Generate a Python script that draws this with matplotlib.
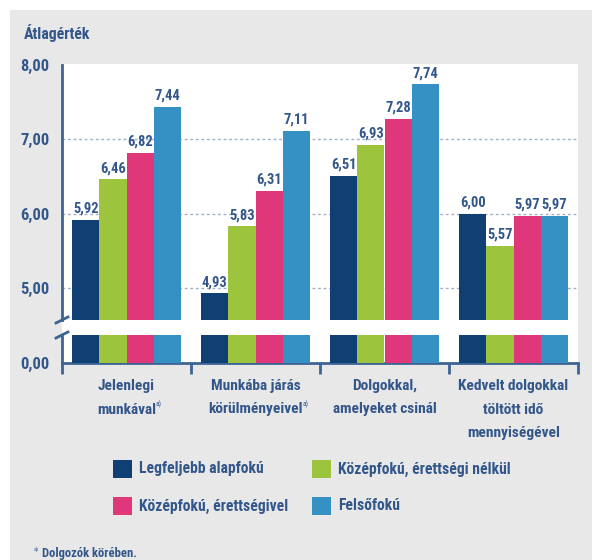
import matplotlib
matplotlib.use("Agg")
import matplotlib.pyplot as plt
import numpy as np
from matplotlib.lines import Line2D
from matplotlib.patches import Rectangle
from matplotlib import font_manager as fm

categories = [["Jelenlegi", "munkával"], ["Munkába járás", "körülményeivel"],
              ["Dolgokkal,", "amelyeket csinál"], ["Kedvelt dolgokkal", "töltött idő", "mennyiségével"]]
footnote_cats = [True, True, False, False]
series_names = ["Legfeljebb alapfokú", "Középfokú, érettségi nélkül",
                "Középfokú, érettségivel", "Felsőfokú"]
values = [
    [5.92, 4.93, 6.51, 6.00],
    [6.46, 5.83, 6.93, 5.57],
    [6.82, 6.31, 7.28, 5.97],
    [7.44, 7.11, 7.74, 5.97],
]
yticks_top = [5.0, 6.0, 7.0, 8.0]
ytick_labels_top = ["5,00", "6,00", "7,00", "8,00"]
colors = ["#0f3f73", "#9cc43c", "#e0377a", "#3591c4"]
txt = "#33578a"
axc = "#3d6494"

# ---- pick a condensed font if one is installed
fonts = fm.fontManager.ttflist
fam, stretch, weight = None, "normal", "bold"
for cand in ["Liberation Sans Narrow", "Roboto Condensed", "Open Sans Condensed",
             "Noto Sans Condensed", "DejaVu Sans Condensed"]:
    if any(f.name == cand for f in fonts):
        fam = cand
        break
if fam is None:
    for f in fonts:
        if f.name in ("DejaVu Sans", "Noto Sans", "Open Sans", "Roboto") and "condensed" in str(f.stretch):
            fam, stretch = f.name, "condensed"
            break
if fam is None:
    fam, weight = "Roboto", "medium"
plt.rcParams['font.family'] = [fam, 'DejaVu Sans']

W, H = 592, 560
fig = plt.figure(figsize=(W/100, H/100), dpi=100)
fig.patch.set_facecolor("white")
renderer = fig.canvas.get_renderer()

def fit(s, target):
    p = fig.text(0, 0, s, fontsize=12, fontweight=weight, fontstretch=stretch)
    wpx = p.get_window_extent(renderer).width
    p.remove()
    return 12 * target / wpx

def fp(size):
    return dict(fontsize=size, fontweight=weight, fontstretch=stretch)

S_leg = fit("Legfeljebb alapfokú", 124)
S_tick = fit("8,00", 29)
S_val = fit("7,44", 25.5)
S_cat = (fit("Munkába járás", 91) + fit("amelyeket csinál", 103)) / 2
S_title = fit("Átlagérték", 67)
S_foot = fit("Dolgozók körében.", 95)

fig.add_artist(Rectangle((10/W, 0), 1, 1 - 10/H, transform=fig.transFigure,
                         facecolor="#e8e8e8", edgecolor="none", zorder=-10))
x0, x1 = 62, 578
fig.add_artist(Rectangle((x0/W, 1 - 363/H), (x1 - x0)/W, (363 - 64)/H,
                         transform=fig.transFigure, facecolor="white", edgecolor="none", zorder=-5))

def fy(py):
    return 1 - py/H

ax_top = fig.add_axes([x0/W, fy(320), (x1 - x0)/W, (320 - 65)/H])
ax_bot = fig.add_axes([x0/W, fy(363), (x1 - x0)/W, (363 - 335)/H])

n = len(categories)
x = np.arange(n)
w = 0.21
for ax in (ax_top, ax_bot):
    ax.set_facecolor("none")
    for i, vals in enumerate(values):
        ax.bar(x + (i - 1.5)*w, vals, width=w, color=colors[i], zorder=3)
    ax.set_xlim(-0.5, n - 0.5)
    for s in ["top", "right"]:
        ax.spines[s].set_visible(False)
    ax.spines["left"].set_color(axc)
    ax.spines["left"].set_linewidth(2)

ax_top.set_ylim(4.57, 8.0)
ax_top.spines["bottom"].set_visible(False)
ax_top.set_yticks(yticks_top)
ax_top.set_yticklabels(ytick_labels_top, **fp(S_tick))
ax_top.tick_params(axis="y", length=0, pad=9, labelcolor=txt)
ax_top.tick_params(axis="x", bottom=False, labelbottom=False)
for yv in [5.0, 6.0, 7.0]:
    ax_top.axhline(yv, color="#9fb0c6", linestyle=(0, (2, 2)), linewidth=1, zorder=1)

for i, vals in enumerate(values):
    for j, v in enumerate(vals):
        ax_top.annotate(f"{v:.2f}".replace(".", ","), xy=(x[j] + (i - 1.5)*w, v),
                        xytext=(0, 3), textcoords="offset points",
                        ha="center", va="bottom", color=txt, **fp(S_val))

ax_bot.set_ylim(0, 0.4)
ax_bot.set_yticks([0])
ax_bot.set_yticklabels(["0,00"], **fp(S_tick))
ax_bot.tick_params(axis="y", length=0, pad=9, labelcolor=txt)
ax_bot.spines["bottom"].set_color(axc)
ax_bot.spines["bottom"].set_linewidth(2)
ax_bot.set_xticks([])
ax_bot.set_xticks(np.arange(-0.5, n), minor=True)
ax_bot.tick_params(axis="x", which="minor", direction="out", length=8, width=2, color=axc)

for py in (320, 335):
    fig.add_artist(Line2D([(x0 - 6)/W, (x0 + 6)/W], [fy(py + 3), fy(py - 3)],
                          transform=fig.transFigure, color=axc, linewidth=2))

for j, lines in enumerate(categories):
    xc = (x0 + (x1 - x0)*(j + 0.5)/n)/W
    for k, line in enumerate(lines):
        t = fig.text(xc, fy(386 + k*23.5), line, ha="center", va="center", color=txt, **fp(S_cat))
        if footnote_cats[j] and k == len(lines) - 1:
            ax_bot.annotate("a)", xy=(1.0, 0.6), xycoords=t, color=txt,
                            ha="left", va="bottom", annotation_clip=False,
                            fontsize=S_cat*0.5, fontstretch=stretch)

fig.text(24/W, fy(33), "Átlagérték", ha="left", va="center", color=txt, **fp(S_title))

leg_pos = [(113, 469), (312, 469), (113, 506), (312, 506)]
for i, (lx, ly) in enumerate(leg_pos):
    fig.add_artist(Rectangle((lx/W, fy(ly + 9)), 19/W, 18/H, transform=fig.transFigure,
                             facecolor=colors[i], edgecolor="none"))
    fig.text((lx + 26)/W, fy(ly), series_names[i], ha="left", va="center", color=txt, **fp(S_leg))

fig.text(42/W, fy(553), "Dolgozók körében.", ha="left", va="center", color=txt, **fp(S_foot))
fig.text(34/W, fy(549), "a)", ha="left", va="center", color=txt, fontsize=S_foot*0.5, fontstretch=stretch)

fig.savefig("out.png", dpi=100, facecolor=fig.get_facecolor())
